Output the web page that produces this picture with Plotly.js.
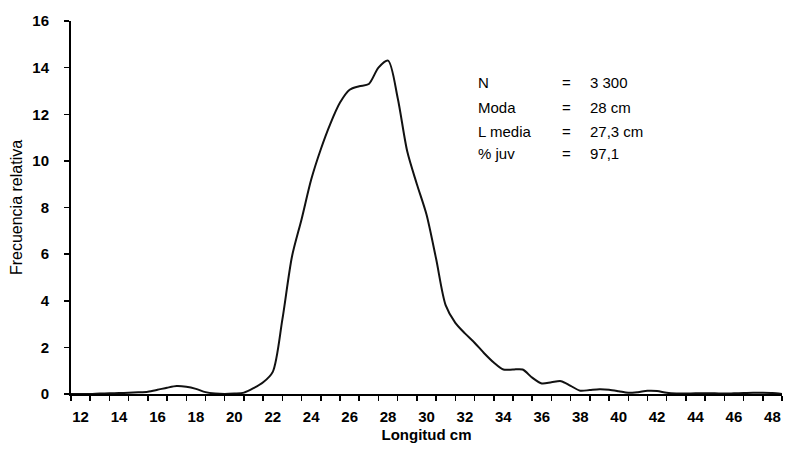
<!DOCTYPE html>
<html>
<head>
<meta charset="utf-8">
<script src="https://cdn.plot.ly/plotly-3.0.1.min.js"></script>
<style>html,body{margin:0;padding:0;background:#fff;}#chart{width:789px;height:449px;}</style>
</head>
<body>
<div id="chart"></div>
<script>
// Longitud (cm) and frecuencia relativa (%)
const longitud = [11.5,12,12.5,13,13.5,14,14.5,15,15.5,16,16.5,17,17.5,18,18.5,19,19.5,20,20.5,21,21.5,22,22.5,23,23.5,24,24.5,25,25.5,26,26.5,27,27.5,28,28.5,29,29.5,30,30.5,31,31.5,32,32.5,33,33.5,34,34.5,35,35.5,36,36.5,37,37.5,38,38.5,39,39.5,40,40.5,41,41.5,42,42.5,43,43.5,44,44.5,45,45.5,46,46.5,47,47.5,48,48.5];
const frecuencia = [0,0,0,0.02,0.03,0.04,0.05,0.07,0.1,0.18,0.27,0.34,0.31,0.22,0.08,0.02,0,0.02,0.06,0.25,0.5,0.95,3.2,5.9,7.5,9.2,10.5,11.6,12.5,13.05,13.2,13.3,14.0,14.3,12.7,10.4,9.0,7.7,5.8,3.8,3.05,2.6,2.2,1.75,1.35,1.05,1.05,1.05,0.7,0.45,0.5,0.55,0.35,0.14,0.17,0.2,0.18,0.12,0.05,0.08,0.14,0.13,0.05,0.02,0.02,0.03,0.03,0.03,0.02,0.03,0.04,0.05,0.05,0.04,0];
const xTickVals = [12,14,16,18,20,22,24,26,28,30,32,34,36,38,40,42,44,46,48];
const xTickText = ["12","14","16","18","20","22","24","26","28","30","32","34","36","38","40","42","44","46","48"];
const xMinorTicks = [11.5,12.5,13.5,14.5,15.5,16.5,17.5,18.5,19.5,20.5,21.5,22.5,23.5,24.5,25.5,26.5,27.5,28.5,29.5,30.5,31.5,32.5,33.5,34.5,35.5,36.5,37.5,38.5,39.5,40.5,41.5,42.5,43.5,44.5,45.5,46.5,47.5,48.5];
const yTickVals = [0,2,4,6,8,10,12,14,16];
const statLabels = ["N","Moda","L media","% juv"];
const statValues = ["3 300","28 cm","27,3 cm","97,1"];

const font = "Liberation Sans, Arial, sans-serif";
const rowsY = [13.36,12.31,11.25,10.33];
const annotations = [];
statLabels.forEach((t,i)=>{
  annotations.push({x:32.55,y:rowsY[i],xref:'x',yref:'y',text:t,showarrow:false,xanchor:'left',yanchor:'middle',font:{family:font,size:15,color:'#000'}});
  annotations.push({x:37.3,y:rowsY[i],xref:'x',yref:'y',text:'=',showarrow:false,xanchor:'center',yanchor:'middle',font:{family:font,size:15,color:'#000'}});
  annotations.push({x:38.4,y:rowsY[i],xref:'x',yref:'y',text:statValues[i],showarrow:false,xanchor:'left',yanchor:'middle',font:{family:font,size:15,color:'#000'}});
});

const trace = {
  x: longitud, y: frecuencia, type:'scatter', mode:'lines',
  line:{color:'#111', width:2, shape:'spline', smoothing:0.8},
  hoverinfo:'skip', showlegend:false
};

const layout = {
  width:789, height:449,
  margin:{l:71, r:7, t:21, b:55},
  paper_bgcolor:'#fff', plot_bgcolor:'#fff',
  showlegend:false,
  xaxis:{
    range:[11.5,48.5], showgrid:false, zeroline:false,
    showline:true, linecolor:'#000', linewidth:2,
    tickmode:'array', tickvals:xTickVals, ticktext:xTickText, ticks:'',
    tickfont:{family:font, size:15, color:'#000', weight:'bold'},
    ticklabelstandoff:8,
    minor:{tickmode:'array', tickvals:xMinorTicks, ticks:'outside', ticklen:5, tickwidth:1.5, tickcolor:'#000', showgrid:false},
    title:{text:'<b>Longitud cm</b>', font:{family:font, size:15, color:'#000'}, standoff:5}
  },
  yaxis:{
    range:[0,16], showgrid:false, zeroline:false,
    showline:true, linecolor:'#000', linewidth:2,
    tickmode:'array', tickvals:yTickVals, ticks:'outside', ticklen:5, tickwidth:1.5, tickcolor:'#000',
    tickfont:{family:font, size:15, color:'#000', weight:'bold'},
    ticklabelstandoff:12,
    title:{text:'Frecuencia relativa', font:{family:font, size:16, color:'#000'}, standoff:6}
  },
  annotations: annotations
};

Plotly.newPlot('chart',[trace],layout,{staticPlot:true, displayModeBar:false});
</script>
</body>
</html>
